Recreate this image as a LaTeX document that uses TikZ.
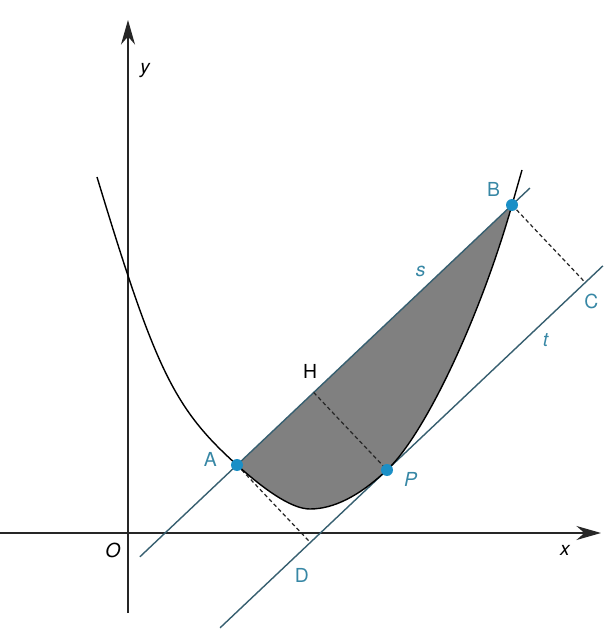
\documentclass[tikz,border=0pt]{standalone}
\usepackage{fontspec}
\setmainfont{TeX Gyre Heros}
\usetikzlibrary{positioning}
\usetikzlibrary{calc}
\usetikzlibrary{arrows.meta}
\definecolor{ptblue}{RGB}{27,143,198}
\definecolor{lblblue}{RGB}{55,135,165}
\definecolor{lineslate}{RGB}{55,95,112}
\definecolor{regiongray}{RGB}{128,128,128}

\begin{document}
\begin{tikzpicture}[
    axis/.style={draw=black!85, line width=0.8pt, -{Stealth[length=14pt, width=8pt]}},
    curve/.style={draw=black, line width=0.8pt},
    chord/.style={draw=lineslate, line width=0.8pt},
    region/.style={fill=regiongray},
    dist/.style={draw=black!85, line width=0.7pt, dash pattern=on 2.2pt off 1.6pt},
    ptdot/.style={circle, fill=ptblue, inner sep=0pt, minimum size=0.24cm},
    lbl/.style={font=\fontsize{11}{13}\selectfont, text=lblblue, inner sep=1pt},
    ilbl/.style={font=\fontsize{11}{13}\selectfont\itshape, text=lblblue, inner sep=1pt},
    axlbl/.style={font=\fontsize{11}{13}\selectfont\itshape, text=black, inner sep=1pt}
]
    \useasboundingbox (-2.56,-2.18) rectangle (9.5,10.66);

    % axes
    \coordinate (o) at (0,0);
    \coordinate (xs) at (-2.56,0);
    \coordinate (xe) at (9.46,0);
    \coordinate (ys) at (0,-1.6);
    \coordinate (ye) at (0,10.26);
    \draw[axis] (xs) -- (xe);
    \draw[axis] (ys) -- (ye);

    % points on the curve
    \coordinate (T1) at (-0.62,7.12);
    \coordinate (A) at (2.18,1.36);
    \coordinate (V) at (3.64,0.48);
    \coordinate (P) at (5.18,1.26);
    \coordinate (B) at (7.68,6.56);
    \coordinate (T2) at (7.88,7.26);

    % secant s and tangent t
    \coordinate (slo) at ($(A)!-0.353!(B)$);
    \coordinate (shi) at ($(A)!1.065!(B)$);
    \coordinate (tlo) at ($(P)-0.607*(B)+0.607*(A)$);
    \coordinate (thi) at ($(P)+0.785*(B)-0.785*(A)$);

    \coordinate (H) at ($(A)!(P)!(B)$);
    \coordinate (C) at ($(tlo)!(B)!(thi)$);
    \coordinate (D) at ($(tlo)!(A)!(thi)$);

    \fill[region] (A) .. controls (2.832,0.773) and (3.319,0.48) .. (V)
        .. controls (4.113,0.48) and (4.627,0.74) .. (P)
        .. controls (5.939,1.974) and (7.039,4.306) .. (B) -- cycle;

    \draw[chord] (slo) -- (shi);
    \draw[chord] (tlo) -- (thi);

    \draw[dist] (A) -- (D);
    \draw[dist] (B) -- (C);
    \draw[dist] (H) -- (P);

    \draw[curve] (T1) .. controls (0.55,3.258) and (0.923,2.491) .. (A)
        .. controls (2.832,0.773) and (3.319,0.48) .. (V)
        .. controls (4.113,0.48) and (4.627,0.74) .. (P)
        .. controls (5.939,1.974) and (7.039,4.306) .. (B) -- (T2);

    \node[ptdot] (dA) at (A) {};
    \node[ptdot] (dB) at (B) {};
    \node[ptdot] (dP) at (P) {};

    % labels
    \node[lbl, above left=-0.08cm and 0.36cm of A] (lA) {A};
    \node[lbl, above left=0.12cm and 0.2cm of B] (lB) {B};
    \node[lbl, below=0.18cm of C, xshift=0.12cm] (lC) {C};
    \node[lbl, below=0.48cm of D, xshift=-0.17cm] (lD) {D};
    \node[lbl, text=black, above=0.23cm of H, xshift=-0.07cm] (lH) {H};
    \node[ilbl, below right=0cm and 0.3cm of P] (lP) {P};
    \node[ilbl, above=0.25cm] (ls) at ($(A)!0.668!(B)$) {s};
    \node[ilbl, below=0.22cm] (lt) at ($(P)!0.735!(thi)$) {t};

    \node[axlbl, below left=0.165cm and 0.11cm of o] (lO) {O};
    \node[axlbl, below left=0.2cm and 0.58cm of xe] (lx) {x};
    \node[axlbl, below right=0.83cm and 0.2cm of ye] (ly) {y};
\end{tikzpicture}
\end{document}
